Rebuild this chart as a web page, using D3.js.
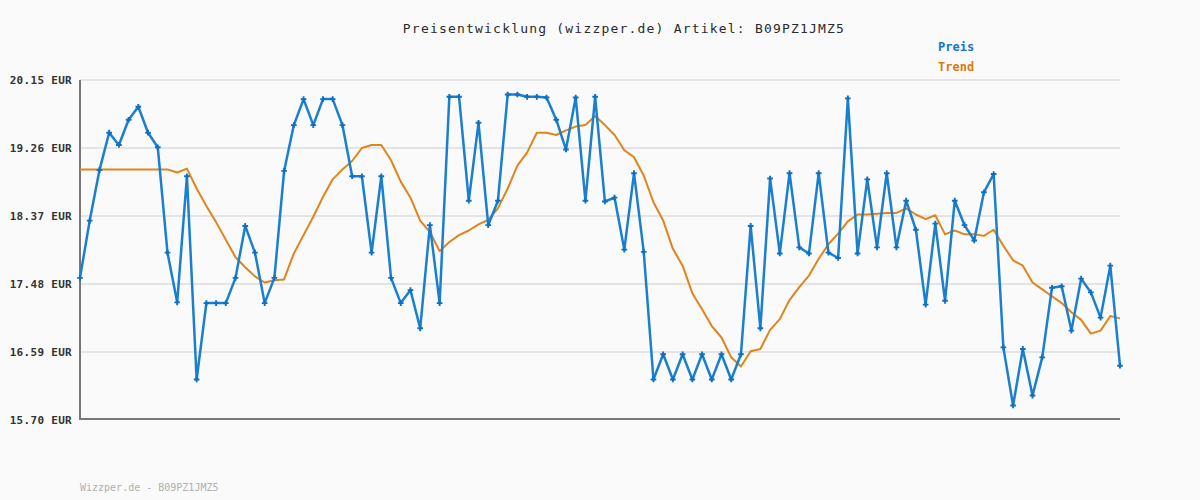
<!DOCTYPE html>
<html>
<head>
<meta charset="utf-8">
<script src="https://cdn.jsdelivr.net/npm/d3@7"></script>
<style>
  html, body { margin: 0; padding: 0; background: #fafafa; }
  svg { display: block; }
  text { font-family: "DejaVu Sans Mono", "Liberation Mono", monospace; }
</style>
</head>
<body>
<svg id="chart" width="1200" height="500"></svg>
<script>
const title = "Preisentwicklung (wizzper.de) Artikel: B09PZ1JMZ5";
const footer = "Wizzper.de - B09PZ1JMZ5";
const seriesNames = ["Preis", "Trend"];
const yTicks = [15.70, 16.59, 17.48, 18.37, 19.26, 20.15];

const preis = [
  17.56, 18.31, 18.97, 19.46, 19.30, 19.63, 19.80, 19.46, 19.27, 17.89,
  17.24, 18.89, 16.23, 17.23, 17.23, 17.23, 17.56, 18.24, 17.89, 17.23,
  17.56, 18.96, 19.56, 19.90, 19.56, 19.90, 19.90, 19.56, 18.89, 18.89,
  17.89, 18.89, 17.56, 17.23, 17.40, 16.90, 18.25, 17.23, 19.93, 19.93,
  18.57, 19.59, 18.25, 18.57, 19.96, 19.96, 19.93, 19.93, 19.92, 19.63,
  19.24, 19.92, 18.57, 19.93, 18.56, 18.61, 17.93, 18.93, 17.90, 16.23,
  16.56, 16.23, 16.56, 16.23, 16.56, 16.23, 16.56, 16.23, 16.56, 18.24,
  16.90, 18.86, 17.88, 18.93, 17.96, 17.88, 18.93, 17.89, 17.82, 19.91,
  17.88, 18.85, 17.96, 18.93, 17.96, 18.57, 18.19, 17.21, 18.27, 17.26,
  18.57, 18.25, 18.05, 18.68, 18.92, 16.65, 15.89, 16.63, 16.02, 16.52,
  17.43, 17.45, 16.87, 17.55, 17.37, 17.04, 17.72, 16.41
];

const trend = [
  18.98, 18.98, 18.98, 18.98, 18.98, 18.98, 18.98, 18.98, 18.98, 18.98,
  18.94, 18.99, 18.73, 18.50, 18.29, 18.06, 17.83, 17.70, 17.58, 17.50,
  17.53, 17.54, 17.88, 18.12, 18.36, 18.62, 18.85, 18.98, 19.09, 19.26,
  19.30, 19.30, 19.10, 18.82, 18.61, 18.31, 18.16, 17.91, 18.03, 18.12,
  18.18, 18.26, 18.32, 18.47, 18.73, 19.03, 19.20, 19.46, 19.46, 19.43,
  19.49, 19.54, 19.56, 19.68, 19.56, 19.43, 19.23, 19.14, 18.90, 18.55,
  18.31, 17.94, 17.72, 17.36, 17.15, 16.93, 16.78, 16.52, 16.40, 16.60,
  16.63, 16.88, 17.02, 17.27, 17.44, 17.59, 17.81, 18.00, 18.14, 18.30,
  18.39, 18.39, 18.40, 18.41, 18.41, 18.47, 18.39, 18.33, 18.38, 18.13,
  18.18, 18.13, 18.13, 18.11, 18.19, 17.98, 17.79, 17.72, 17.50, 17.41,
  17.32, 17.23, 17.11, 17.01, 16.83, 16.87, 17.06, 17.03
];

const blue = "#1a7fcf";
const orange = "#e0841c";

const svg = d3.select("#chart");
const plotLeft = 80, plotRight = 1120, plotTop = 80, plotBottom = 420;

const x = d3.scaleLinear().domain([0, preis.length - 1]).range([plotLeft, plotRight]);
const y = d3.scaleLinear().domain([15.70, 20.15]).range([plotBottom, plotTop]);

// background
svg.append("rect").attr("width", 1200).attr("height", 500).attr("fill", "#fafafa");

// gridlines
svg.append("g").selectAll("line").data(yTicks.slice(1)).join("line")
  .attr("x1", plotLeft).attr("x2", plotRight)
  .attr("y1", d => y(d)).attr("y2", d => y(d))
  .attr("stroke", "#e4e4e4").attr("stroke-width", 2);

// y axis labels via d3 axis
const yAxis = d3.axisLeft(y).tickValues(yTicks)
  .tickFormat(d => d3.format(".2f")(d) + " EUR").tickSize(0).tickPadding(8);
const ga = svg.append("g").attr("transform", `translate(${plotLeft},0)`).call(yAxis);
ga.select(".domain").remove();
ga.selectAll("text")
  .attr("font-family", "DejaVu Sans Mono, monospace")
  .attr("font-size", 11).attr("font-weight", "bold")
  .attr("letter-spacing", "0.3px")
  .attr("fill", "#333");

// axes lines
svg.append("line").attr("x1", plotLeft).attr("x2", plotLeft).attr("y1", plotTop).attr("y2", plotBottom)
  .attr("stroke", "#777").attr("stroke-width", 2);
svg.append("line").attr("x1", plotLeft - 1).attr("x2", plotRight).attr("y1", plotBottom - 1).attr("y2", plotBottom - 1)
  .attr("stroke", "#777").attr("stroke-width", 2);

// trend line
const line = d3.line().x((d, i) => x(i)).y(d => y(d));
svg.append("path").datum(trend).attr("d", line)
  .attr("fill", "none").attr("stroke", orange).attr("stroke-width", 2)
  .attr("stroke-linejoin", "round");

// price line
svg.append("path").datum(preis).attr("d", line)
  .attr("fill", "none").attr("stroke", blue).attr("stroke-width", 2.5)
  .attr("stroke-linejoin", "round");

// markers
svg.append("g").selectAll("path").data(preis).join("path")
  .attr("transform", (d, i) => `translate(${x(i)},${y(d)})`)
  .attr("d", d3.symbol(d3.symbolCross, 18)())
  .attr("fill", "#0f70c0");

// title
svg.append("text").attr("x", 624).attr("y", 33).attr("text-anchor", "middle")
  .attr("font-size", 13).attr("letter-spacing", "1.2px").attr("fill", "#2a2a2a")
  .text(title);

// legend
svg.append("text").attr("x", 938).attr("y", 51).attr("font-size", 12)
  .attr("font-weight", "bold").attr("fill", "#1577c8").text(seriesNames[0]);
svg.append("text").attr("x", 938).attr("y", 71).attr("font-size", 12)
  .attr("font-weight", "bold").attr("fill", "#d97c0e").text(seriesNames[1]);

// footer
svg.append("text").attr("x", 80).attr("y", 491).attr("font-size", 10)
  .attr("fill", "#b0b0b0").text(footer);
</script>
</body>
</html>
